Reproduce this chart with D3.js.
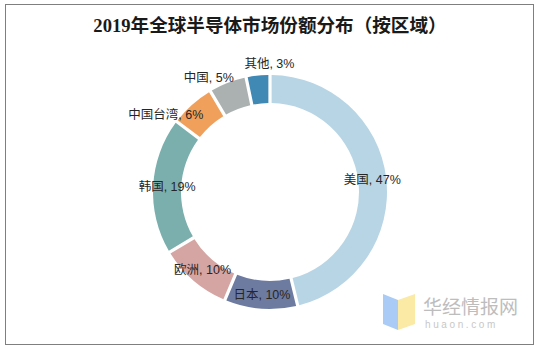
<!DOCTYPE html>
<html lang="zh">
<head>
<meta charset="utf-8">
<title>2019年全球半导体市场份额分布</title>
<script src="https://cdn.jsdelivr.net/npm/d3@7"></script>
<style>
  body { margin: 0; background: #fff; }
  svg text { font-family: Arial, "Liberation Sans", "Noto Sans CJK SC", sans-serif; }
</style>
</head>
<body>
<script>
// chart data
let regions = ["美国", "日本", "欧洲", "韩国", "中国台湾", "中国", "其他"];
let shares = [47, 10, 10, 19, 6, 5, 3];
let colors = ["#b8d5e5", "#6e7ba0", "#d5a5a3", "#7aafae", "#f0a05a", "#abb1b1", "#4089b5"];
let titleText = "2019年全球半导体市场份额分布（按区域）";

let w = 539, h = 350;
let cx = 270, cy = 192;
let outerR = 117, innerR = 89;

let svg = d3.select("body").append("svg")
  .attr("width", w)
  .attr("height", h);

// frame
svg.append("rect")
  .attr("x", 5.5).attr("y", 4.5)
  .attr("width", 528).attr("height", 340)
  .attr("fill", "#fff")
  .attr("stroke", "#7f7f7f")
  .attr("stroke-width", 1);

svg.append("text")
  .attr("x", 270).attr("y", 32)
  .attr("text-anchor", "middle")
  .style("font-family", "'Liberation Serif', 'Noto Sans CJK SC', serif")
  .style("font-size", "18.6px")
  .style("font-weight", "bold")
  .attr("fill", "#1a1a1a")
  .text(titleText);

let dataset = regions.map((r, i) => ({ name: r, value: shares[i], color: colors[i] }));

let pie = d3.pie()
  .sort(null)
  .value(d => d.value)
  .padAngle(0.022);

let arc = d3.arc()
  .innerRadius(innerR)
  .outerRadius(outerR);

let g = svg.append("g")
  .attr("transform", "translate(" + cx + "," + cy + ")");

let arcs = pie(dataset);

g.selectAll("path")
  .data(arcs)
  .enter()
  .append("path")
  .attr("d", arc)
  .attr("fill", d => d.data.color);

// small slices get their labels pushed out of the ring
let nudge = {
  "中国台湾": { anchor: "end", dx: 2, dy: 0 },
  "中国": { anchor: "end", dx: 1, dy: -18 },
  "其他": { anchor: "start", dx: -15, dy: -26 }
};

g.selectAll("text.lbl")
  .data(arcs)
  .enter()
  .append("text")
  .attr("class", "lbl")
  .attr("x", d => arc.centroid(d)[0] + (nudge[d.data.name] ? nudge[d.data.name].dx : 0))
  .attr("y", d => arc.centroid(d)[1] + (nudge[d.data.name] ? nudge[d.data.name].dy : 0))
  .attr("dy", "0.32em")
  .attr("text-anchor", d => nudge[d.data.name] ? nudge[d.data.name].anchor : "middle")
  .style("font-size", "12.5px")
  .attr("fill", "#262626")
  .text(d => d.data.name + ", " + d.data.value + "%");

// watermark
let wm = svg.append("g").attr("transform", "translate(383,294)");
wm.append("path")
  .attr("d", "M0,0 L15,6 L15,36 L0,30 Z")
  .attr("fill", "#a9cbf5");
wm.append("path")
  .attr("d", "M15,6 L32,0 L32,30 L15,36 Z")
  .attr("fill", "#fbe9a6");
wm.append("text")
  .attr("x", 40).attr("y", 20)
  .style("font-size", "19px")
  .attr("fill", "#bdbdbd")
  .text("华经情报网");
wm.append("text")
  .attr("x", 42).attr("y", 34)
  .style("font-size", "10px")
  .style("letter-spacing", "2.6px")
  .attr("fill", "#c8c8c8")
  .text("huaon.com");
</script>
</body>
</html>
